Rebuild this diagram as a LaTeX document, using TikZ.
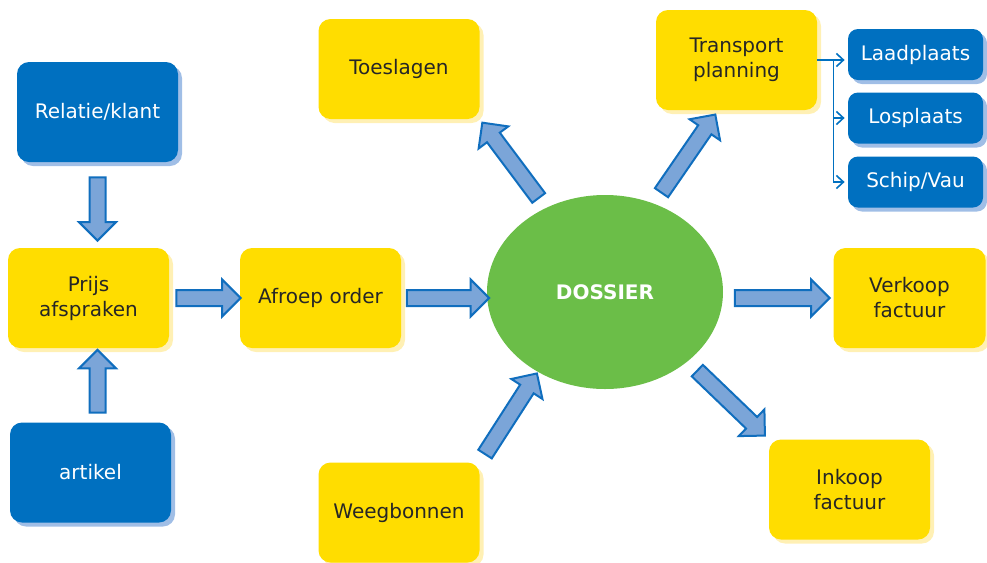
\documentclass[tikz,border=0pt]{standalone}
\usepackage{fontspec}
\setmainfont{DejaVu Sans}
\usetikzlibrary{calc,shadows,shapes,arrows.meta}
\usetikzlibrary{positioning}

\definecolor{geel}{RGB}{255,221,0}
\definecolor{geelschaduw}{RGB}{255,240,180}
\definecolor{blauw}{RGB}{0,112,192}
\definecolor{blauwschaduw}{RGB}{160,190,230}
\definecolor{groen}{RGB}{107,190,72}
\definecolor{pijl}{RGB}{123,165,216}
\definecolor{pijlrand}{RGB}{16,110,190}
\definecolor{tekst}{RGB}{38,38,38}

% fat block arrow between two points, #3 = gap at both ends
\newcommand{\fatarrow}[3]{%
	\path let \p1=(#1), \p2=(#2), \n1={atan2(\y2-\y1,\x2-\x1)}, \n2={veclen(\x2-\x1,\y2-\y1)-2*#3} in
		node[fatarrow, rotate=\n1, minimum height=\n2] at ($(#1)!0.5!(#2)$) {};}

\begin{document}
\begin{tikzpicture}[x=0.5pt,y=-0.5pt,
		box/.style={rounded corners=6pt, minimum width=80.5pt, minimum height=50pt, inner sep=0pt, align=center, font=\fontsize{10}{12.5}\selectfont},
		ybox/.style={box, fill=geel, text=tekst, drop shadow={shadow xshift=2pt, shadow yshift=-2pt, fill=geelschaduw, opacity=1}},
		bbox/.style={box, fill=blauw, text=white, drop shadow={shadow xshift=2pt, shadow yshift=-2pt, fill=blauwschaduw, opacity=1}},
		sbox/.style={bbox, rounded corners=5pt, minimum width=67.5pt, minimum height=25.5pt},
		dossier/.style={ellipse, fill=groen, text=white, inner sep=0pt, minimum width=118pt, minimum height=97pt, font=\bfseries\fontsize{10}{12}\selectfont},
		fatarrow/.style={single arrow, draw=pijlrand, fill=pijl, line width=1pt, inner sep=3.5pt, single arrow head extend=5.25pt},
		branch/.style={draw=blauw, line width=0.8pt, -{Straight Barb[length=3.5pt,width=6.5pt]}, shorten >=1.5pt}]
		
		\useasboundingbox (0,0) rectangle (987,563);
		
		% left column
		\node[bbox] (relatie) at (97.5,112) {Relatie/klant};
		\node[ybox] (prijs) at (88.5,298) {Prijs\\afspraken};
		\node[bbox] (artikel) at (90.5,472.5) {artikel};
		\node[ybox] (afroep) at (320.5,298) {Afroep order};
		
		% centre
		\node[dossier] (dos) at (605,292) {DOSSIER};
		\node[ybox] (toeslagen) at (399,69) {Toeslagen};
		\node[ybox] (weeg) at (399,512.5) {Weegbonnen};
		
		% right
		\node[ybox] (transport) at (736.5,60) {Transport\\planning};
		\node[sbox] (laad) at (915.5,54.5) {Laadplaats};
		\node[sbox] (los) at (915.5,118) {Losplaats};
		\node[sbox] (schip) at (915.5,182) {Schip/Vau};
		\node[ybox, minimum width=76pt] (verkoop) at (909.5,298) {Verkoop\\factuur};
		\node[ybox] (inkoop) at (849.5,489.5) {Inkoop\\factuur};
		
		\fatarrow{relatie.south}{relatie.south |- prijs.north}{5.5}
		\fatarrow{relatie.south |- artikel.north}{relatie.south |- prijs.south}{2.75}
		\fatarrow{prijs.east}{afroep.west}{1.5}
		\fatarrow{afroep.east}{dos.west |- afroep.east}{0.75}
		\fatarrow{dos.east |- verkoop.west}{verkoop.west}{3.75}
		\fatarrow{dos.125}{toeslagen.south east}{4}
		\fatarrow{dos.61}{transport.250}{4.5}
		\fatarrow{weeg.north east}{dos.230}{2.75}
		\fatarrow{dos.-40}{inkoop.north west}{4.5}
		
		\coordinate (fork) at ($(transport.east)+(16,0)$);
		\draw[branch] (transport.east) -- (laad.west |- transport.east);
		\draw[branch] (fork) |- (los.west);
		\draw[branch] (fork) |- (schip.west);
		
	\end{tikzpicture}
\end{document}
